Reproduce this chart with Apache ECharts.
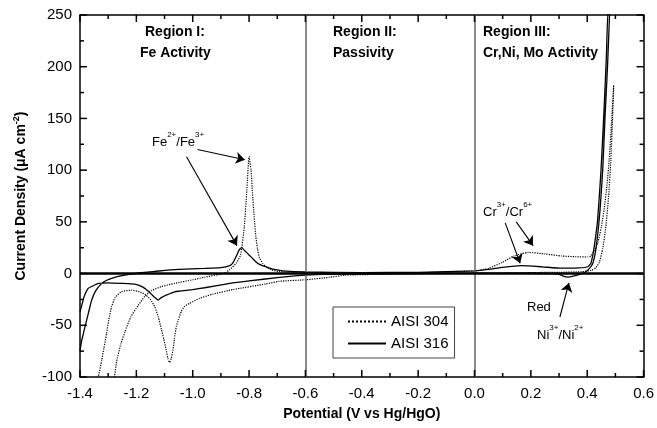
<!DOCTYPE html>
<html>
<head>
<meta charset="utf-8">
<script src="https://cdn.jsdelivr.net/npm/echarts/dist/echarts.min.js"></script>
<style>
html,body{margin:0;padding:0;background:#fff}
#main{width:657px;height:428px}
</style>
</head>
<body>
<div id="main"></div>
<script type="text/javascript">
// AISI 304 (dotted) - anodic scan then cathodic scan
var potential304 = [-1.28,-1.27,-1.255,-1.24,-1.22,-1.194,-1.17,-1.147,-1.11,-1.064,-1.0,-0.958,-0.92,-0.89,-0.87,-0.846,-0.83,-0.817,-0.808,-0.800,-0.793,-0.788,-0.782,-0.776,-0.770,-0.764,-0.752,-0.740,-0.720,-0.693,-0.65,-0.6,-0.4,-0.2,0,0.05,0.1,0.14,0.19,0.25,0.308,0.36,0.402,0.413,0.425,0.438,0.45,0.46,0.47,0.478,0.486,0.494,
  0.49,0.484,0.476,0.466,0.455,0.443,0.43,0.414,0.38,0.3,0.2,0,-0.2,-0.35,-0.458,-0.517,-0.6,-0.693,-0.74,-0.858,-0.93,-0.976,-1.011,-1.03,-1.041,-1.05,-1.058,-1.065,-1.07,-1.076,-1.082,-1.088,-1.094,-1.103,-1.111,-1.122,-1.135,-1.15,-1.17,-1.19,-1.217,-1.253,-1.275,-1.288,-1.298,-1.306,-1.315,-1.323,-1.335,-1.34];
var current304 = [-105,-85,-68,-56,-42,-31,-22,-16.5,-12.5,-9.5,-6,-3.5,-1.5,0,3.4,10,18,45,80,113,100,78,55,36,24,16,10,6.6,3.5,2,1.2,0.8,0.6,0.8,2.5,5,11,17,20.5,19,17,16.3,16,17,22,30,45,62,85,110,145,182,
  150,110,75,45,24,11,5.5,3,1.8,1.2,1,0.6,0,-0.8,-1.5,-3.7,-6,-7.5,-10,-15.5,-20,-24,-28.8,-32,-37,-44,-51,-63,-74,-82,-86,-82,-74,-63,-54,-42,-32,-25,-20,-17.5,-16,-17.5,-23,-32,-45,-58,-72,-84,-100,-106];

// AISI 316 (solid)
var potential316 = [-1.4,-1.395,-1.388,-1.382,-1.37,-1.359,-1.345,-1.323,-1.305,-1.288,-1.265,-1.241,-1.21,-1.182,-1.12,-1.05,-0.958,-0.9,-0.87,-0.858,-0.845,-0.835,-0.826,-0.815,-0.8,-0.788,-0.77,-0.755,-0.74,-0.71,-0.682,-0.6,-0.4,-0.2,0,0.05,0.1,0.166,0.24,0.308,0.37,0.402,0.413,0.42,0.427,0.437,0.449,0.46,0.468,0.474,
  0.48,0.472,0.463,0.455,0.445,0.432,0.42,0.405,0.39,0.37,0.35,0.331,0.315,0.3,0.27,0.2,0,-0.2,-0.4,-0.5,-0.6,-0.7,-0.8,-0.858,-0.958,-1.0,-1.047,-1.064,-1.094,-1.11,-1.123,-1.135,-1.15,-1.17,-1.19,-1.206,-1.25,-1.3,-1.335,-1.355,-1.371,-1.385,-1.393,-1.4];
var current316 = [-75,-66,-58,-51,-38,-26,-17,-9.5,-6.5,-4.6,-2.8,-1.5,-0.2,0.8,2.5,4,5,5.8,7.5,10,17,23,25,22,18,14.7,10,8,6.6,4,2.7,1.5,1,1.2,2.7,4,6,7.6,6.5,5.2,5.5,6.6,10,18,30,52,100,160,210,255,
  255,200,150,100,60,26,10,4,1,-1,-2.5,-3.5,-2.5,-0.8,0,0.3,0.2,0,-0.3,-0.6,-1.5,-4,-7,-9,-13.7,-15.5,-17,-17.6,-20.8,-23,-25.6,-23,-19,-14.3,-11.5,-10.2,-9.5,-8.9,-9.5,-12,-14.3,-22,-30,-37];

var xMin = -1.4, xMax = 0.6, yMin = -100, yMax = 250;
// tick positions (major ones are labelled by the axis)
var xTickValues = [-1.4,-1.3,-1.2,-1.1,-1.0,-0.9,-0.8,-0.7,-0.6,-0.5,-0.4,-0.3,-0.2,-0.1,0,0.1,0.2,0.3,0.4,0.5,0.6];
var yTickValues = [-100,-75,-50,-25,0,25,50,75,100,125,150,175,200,225,250];

var regionBounds = [-0.6, 0];

// arrows: [from, to] in data units
var arrows = [
  [[-0.983, 120], [-0.815, 110]],
  [[-1.022, 113], [-0.843, 27]],
  [[0.109, 49], [0.162, 10]],
  [[0.148, 50], [0.208, 27]],
  [[0.303, -42], [0.335, -9]]
];

function zip(xs, ys) {
  var out = [];
  for (var i = 0; i < xs.length; i++) out.push([xs[i], ys[i]]);
  return out;
}

// [kind (0 = x, 1 = y), value, major?]
var tickData = [];
xTickValues.forEach(function (v, i) { tickData.push([0, v, i % 2 === 0 ? 1 : 0]); });
yTickValues.forEach(function (v, i) { tickData.push([1, v, i % 2 === 0 ? 1 : 0]); });

var FONT = 'Arial, "Liberation Sans", sans-serif';
var supRich = {
  b: {fontSize: 13, fontFamily: FONT, color: '#000', lineHeight: 18, verticalAlign: 'bottom'},
  s: {fontSize: 8, fontFamily: FONT, color: '#000', lineHeight: 18, verticalAlign: 'top'}
};

function axisCommon(extra) {
  var a = {
    axisLine: {show: true, onZero: false, lineStyle: {color: '#000', width: 1.5}},
    axisTick: {show: false},
    minorTick: {show: false},
    splitLine: {show: false}
  };
  for (var k in extra) a[k] = extra[k];
  return a;
}

function fmtX(v) {
  if (Math.abs(v) < 1e-9) return '0.0';
  return v.toFixed(1);
}

function tickLine(x1, y1, x2, y2) {
  return {type: 'line', shape: {x1: x1, y1: y1, x2: x2, y2: y2}, style: {stroke: '#000', lineWidth: 1.5}};
}

function renderTick(params, api) {
  var kind = api.value(0), v = api.value(1), len = api.value(2) ? 7 : 4;
  if (kind === 0) {
    var b = api.coord([v, yMin]), t = api.coord([v, yMax]);
    return {type: 'group', children: [tickLine(b[0], b[1], b[0], b[1] - len), tickLine(t[0], t[1], t[0], t[1] + len)]};
  }
  var l = api.coord([xMin, v]), r = api.coord([xMax, v]);
  return {type: 'group', children: [tickLine(l[0], l[1], l[0] + len, l[1]), tickLine(r[0], r[1], r[0] - len, r[1])]};
}

var myChart = echarts.init(document.getElementById('main'));

var option = {
  animation: false,
  grid: {left: 80, right: 11, top: 15, bottom: 51},
  legend: {
    data: ['AISI 304', 'AISI 316'],
    orient: 'vertical',
    left: 333, top: 307,
    itemWidth: 38, itemHeight: 14, itemGap: 7,
    padding: [7, 6, 7, 14],
    borderColor: '#444', borderWidth: 1,
    itemStyle: {opacity: 0},
    textStyle: {fontSize: 15, fontFamily: FONT, color: '#000'}
  },
  xAxis: [
    axisCommon({
      type: 'value', min: xMin, max: xMax, interval: 0.2, position: 'bottom',
      axisLabel: {formatter: fmtX, fontSize: 15, color: '#000', margin: 9, fontFamily: FONT},
      name: 'Potential (V vs Hg/HgO)', nameLocation: 'middle', nameGap: 30,
      nameTextStyle: {fontSize: 14, fontWeight: 'bold', color: '#000', fontFamily: FONT}
    }),
    axisCommon({
      type: 'value', min: xMin, max: xMax, interval: 0.2, position: 'top',
      axisLabel: {show: false}
    })
  ],
  yAxis: [
    axisCommon({
      type: 'value', min: yMin, max: yMax, interval: 50, position: 'left',
      axisLabel: {fontSize: 15, color: '#000', margin: 8, fontFamily: FONT},
      name: 'Current Density ({m|\u03bc}A cm{s|-2})', nameLocation: 'middle', nameGap: 50,
      nameTextStyle: {
        fontSize: 14, fontWeight: 'bold', color: '#000', fontFamily: FONT,
        rich: {
          m: {fontSize: 14, fontWeight: 'bold', fontFamily: FONT, color: '#000'},
          s: {fontSize: 9, fontWeight: 'bold', fontFamily: FONT, color: '#000', verticalAlign: 'top', lineHeight: 18}
        }
      }
    }),
    axisCommon({
      type: 'value', min: yMin, max: yMax, interval: 50, position: 'right',
      axisLabel: {show: false}
    })
  ],
  series: [
    {
      name: 'AISI 304', type: 'line', data: zip(potential304, current304),
      symbol: 'none', smooth: 0.15,
      lineStyle: {color: '#000', width: 1.2, type: 'dotted'},
      itemStyle: {color: '#000'},
      // region boundaries and zero line
      markLine: {
        silent: true, symbol: ['none', 'none'], label: {show: false},
        data: [
          {xAxis: regionBounds[0], lineStyle: {color: '#666', width: 1.5, type: 'solid'}},
          {xAxis: regionBounds[1], lineStyle: {color: '#666', width: 1.5, type: 'solid'}},
          {yAxis: 0, lineStyle: {color: '#000', width: 2.5, type: 'solid'}}
        ]
      }
    },
    {
      name: 'AISI 316', type: 'line', data: zip(potential316, current316),
      symbol: 'none', smooth: 0.15,
      lineStyle: {color: '#000', width: 1.3, type: 'solid'},
      itemStyle: {color: '#000'},
      // annotation arrows
      markLine: {
        silent: true, symbol: ['none', 'arrow'], symbolSize: 9, label: {show: false},
        lineStyle: {color: '#000', width: 1.1, type: 'solid'},
        data: arrows.map(function (a) {
          return [{coord: a[0]}, {coord: a[1]}];
        })
      }
    },
    {
      // inward ticks on all four sides of the frame
      name: 'ticks', type: 'custom', silent: true, clip: false, z: 5,
      data: tickData,
      encode: {x: 1, y: -1},
      renderItem: renderTick
    }
  ],
  graphic: [
    {type: 'text', style: {x: 145, y: 32, text: 'Region I:', font: 'bold 14px ' + FONT, fill: '#000', verticalAlign: 'middle'}},
    {type: 'text', style: {x: 140, y: 53, text: 'Fe Activity', font: 'bold 14px ' + FONT, fill: '#000', verticalAlign: 'middle'}},
    {type: 'text', style: {x: 333, y: 32, text: 'Region II:', font: 'bold 14px ' + FONT, fill: '#000', verticalAlign: 'middle'}},
    {type: 'text', style: {x: 333, y: 53, text: 'Passivity', font: 'bold 14px ' + FONT, fill: '#000', verticalAlign: 'middle'}},
    {type: 'text', style: {x: 483, y: 32, text: 'Region III:', font: 'bold 14px ' + FONT, fill: '#000', verticalAlign: 'middle'}},
    {type: 'text', style: {x: 483, y: 53, text: 'Cr,Ni, Mo Activity', font: 'bold 14px ' + FONT, fill: '#000', verticalAlign: 'middle'}},
    {type: 'text', style: {x: 152, y: 140, text: '{b|Fe}{s|2+}{b|/Fe}{s|3+}', rich: supRich, verticalAlign: 'middle'}},
    {type: 'text', style: {x: 483, y: 210, text: '{b|Cr}{s|3+}{b|/Cr}{s|6+}', rich: supRich, verticalAlign: 'middle'}},
    {type: 'text', style: {x: 527, y: 307, text: 'Red', font: '13px ' + FONT, fill: '#000', verticalAlign: 'middle'}},
    {type: 'text', style: {x: 537, y: 333, text: '{b|Ni}{s|3+}{b|/Ni}{s|2+}', rich: supRich, verticalAlign: 'middle'}}
  ]
};

myChart.setOption(option);
</script>
</body>
</html>
